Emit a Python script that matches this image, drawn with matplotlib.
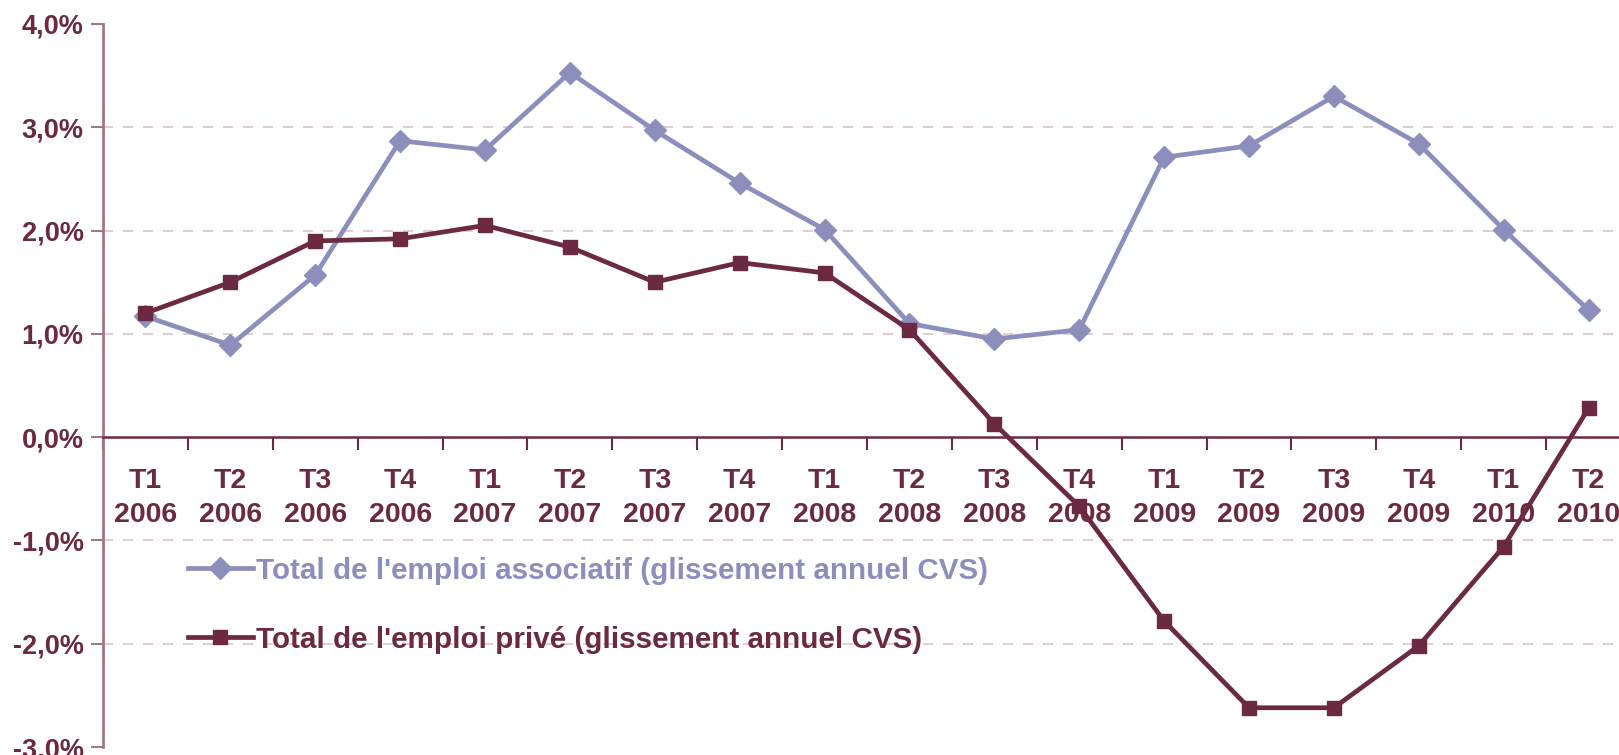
import matplotlib.pyplot as plt
import matplotlib.ticker as mticker
import numpy as np

# --- Donnees ---
trimestres = ['T1', 'T2', 'T3', 'T4', 'T1', 'T2', 'T3', 'T4', 'T1',
              'T2', 'T3', 'T4', 'T1', 'T2', 'T3', 'T4', 'T1', 'T2']
annees = ['2006', '2006', '2006', '2006', '2007', '2007', '2007', '2007', '2008',
          '2008', '2008', '2008', '2009', '2009', '2009', '2009', '2010', '2010']
emploi_associatif = [1.17, 0.89, 1.57, 2.87, 2.78, 3.53, 2.97, 2.46, 2.01,
                     1.10, 0.95, 1.04, 2.71, 2.82, 3.30, 2.84, 2.01, 1.23]
emploi_prive = [1.20, 1.50, 1.90, 1.92, 2.05, 1.84, 1.50, 1.69, 1.59,
                1.04, 0.13, -0.67, -1.78, -2.62, -2.62, -2.02, -1.06, 0.28]

col_asso = '#8c8fbc'
col_prive = '#6b2a42'
col_grid = '#dcc4cc'
col_axe = '#a07888'

plt.rcParams['font.family'] = ['Liberation Sans', 'DejaVu Sans']

fig = plt.figure(figsize=(16.19, 7.55), dpi=100)
ax = fig.add_axes([103 / 1619, 8 / 755, 1528 / 1619, 723 / 755])

x = np.arange(len(trimestres))
ax.plot(x, emploi_associatif, color=col_asso, lw=3.4, marker='D', ms=11.5,
        label="Total de l'emploi associatif (glissement annuel CVS)", zorder=3)
ax.plot(x, emploi_prive, color=col_prive, lw=3.4, marker='s', ms=9.5,
        label="Total de l'emploi privé (glissement annuel CVS)", zorder=4)

ax.set_xlim(-0.5, len(trimestres) - 0.5)
ax.set_ylim(-3, 4)
ax.yaxis.set_major_locator(mticker.MultipleLocator(1))
ax.yaxis.set_major_formatter(mticker.FuncFormatter(lambda v, p: f"{v:.1f}%".replace('.', ',')))

# grille pointillee
ax.yaxis.grid(True, color=col_grid, lw=1.2, dashes=(6, 6))
for tick, gl in zip(ax.get_yticks(), ax.get_ygridlines()):
    if tick in (4, 0, -3):
        gl.set_visible(False)

for s in ['top', 'right']:
    ax.spines[s].set_visible(False)
ax.spines['left'].set_color(col_axe)
ax.spines['left'].set_linewidth(2)
ax.spines['bottom'].set_position(('data', 0))
ax.spines['bottom'].set_color(col_prive)
ax.spines['bottom'].set_linewidth(1.8)

# graduations x entre les categories
ax.set_xticks(np.arange(-0.5, len(trimestres), 1))
ax.set_xticklabels([])
ax.set_xticks(x, minor=True)
ax.set_xticklabels([f"{t}\n{a}" for t, a in zip(trimestres, annees)], minor=True)
ax.tick_params(axis='x', which='major', direction='out', length=9, width=1.5, color=col_prive)
ax.tick_params(axis='x', which='minor', length=0, pad=22, labelsize=20.5, labelcolor=col_prive)
for lab in ax.get_xticklabels(minor=True):
    lab.set_fontweight('bold')
    lab.set_linespacing(1.42)

ax.tick_params(axis='y', direction='out', length=9, width=1.5, color=col_axe,
               labelsize=19.5, labelcolor=col_prive, pad=5)
for lab in ax.get_yticklabels():
    lab.set_fontweight('bold')

leg = ax.legend(loc='upper left', bbox_to_anchor=(0.038, 0.30), frameon=False,
                handlelength=2.2, handletextpad=0.1, labelspacing=1.38,
                prop={'weight': 'bold', 'size': 21.3})
for txt, c in zip(leg.get_texts(), [col_asso, col_prive]):
    txt.set_color(c)

fig.savefig('out.png', dpi=100)
